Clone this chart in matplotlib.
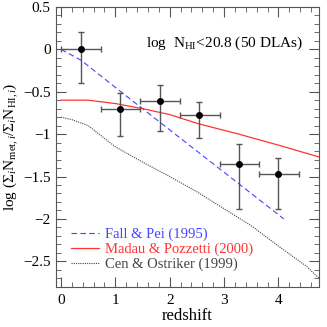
import numpy as np
import matplotlib
matplotlib.use('Agg')
import matplotlib.pyplot as plt

# DLA metallicity bins
z_pts = [0.365, 1.094, 1.823, 2.54, 3.27, 4.0]
z_lo = [0.0, 0.73, 1.46, 2.19, 2.92, 3.65]
z_hi = [0.73, 1.46, 2.19, 2.92, 3.65, 4.38]
met = [0.0, -0.70, -0.61, -0.78, -1.35, -1.47]
met_up = [0.20, -0.52, -0.42, -0.62, -1.12, -1.28]
met_dn = [-0.40, -1.02, -0.96, -1.05, -1.88, -1.88]

# model curves
fp_z = [0.0, 0.37, 1.1, 1.5, 2.0, 2.5, 3.0, 3.5, 4.1]
fp_met = [0.0, -0.13, -0.5, -0.7, -0.95, -1.2, -1.45, -1.7, -2.0]
mp_z = [0.0, 0.5, 1.0, 1.5, 2.0, 2.54, 3.27, 4.0, 4.75]
mp_met = [-0.6, -0.6, -0.64, -0.70, -0.77, -0.88, -1.0, -1.13, -1.27]
co_z = [0.0, 0.2, 0.5, 1.0, 1.5, 2.0, 2.5, 3.0, 3.5, 4.0, 4.5, 4.75]
co_met = [-0.8, -0.83, -0.9, -1.15, -1.33, -1.5, -1.68, -1.88, -2.08, -2.32, -2.55, -2.7]

plt.rcParams['font.family'] = 'Liberation Serif'
plt.rcParams['mathtext.fontset'] = 'custom'
plt.rcParams['mathtext.rm'] = 'Liberation Serif'
plt.rcParams['mathtext.it'] = 'Liberation Serif:italic'

fig = plt.figure(figsize=(3.27, 3.27), dpi=100)
ax = fig.add_axes([0.170, 0.123, 0.806, 0.856])

ax.plot(fp_z, fp_met, color='#4444ff', ls=(0, (5, 3)), lw=0.8, label='Fall & Pei (1995)')
ax.plot(mp_z, mp_met, color='#ff3333', lw=0.9, label='Madau & Pozzetti (2000)')
ax.plot(co_z, co_met, color='#444444', ls=(0, (1, 1)), lw=0.8, label='Cen & Ostriker (1999)')

z = np.array(z_pts)
m = np.array(met)
xerr = [z - np.array(z_lo), np.array(z_hi) - z]
yerr = [m - np.array(met_dn), np.array(met_up) - m]
ax.errorbar(z, m, xerr=xerr, yerr=yerr, fmt='o', color='black', ms=4,
            ecolor='#555555', elinewidth=1.0, capsize=2.5, capthick=1.0)

ax.set_xlim(-0.1, 4.75)
ax.set_ylim(-2.8, 0.5)
ax.set_xticks([0, 1, 2, 3, 4])
ax.set_yticks([0.5, 0, -0.5, -1, -1.5, -2, -2.5])
ax.set_yticklabels(['0.5', '0', '\u22120.5', '\u22121', '\u22121.5', '\u22122', '\u22122.5'])
ax.xaxis.set_minor_locator(matplotlib.ticker.MultipleLocator(0.2))
ax.yaxis.set_minor_locator(matplotlib.ticker.MultipleLocator(0.1))
ax.tick_params(which='both', direction='in', top=True, right=True, colors='#555555',
               labelcolor='black', labelsize=11)
ax.tick_params(which='major', length=7)
ax.tick_params(which='minor', length=3.5)
ax.tick_params(axis='x', pad=5)
for s in ax.spines.values():
    s.set_color('#555555')

ax.set_xlabel('redshift', fontsize=12, labelpad=1)
ax.set_ylabel('log (\u03a3$_i$N$_{\\mathrm{met},i}$/\u03a3$_i$N$_{\\mathrm{HI},i}$)',
              fontsize=11)
ax.yaxis.set_label_coords(-0.135, 0.5)

ax.text(0.94, 0.87, r'log  N$_{\mathrm{HI}}$<20.8 (50 DLAs)', transform=ax.transAxes,
        ha='right', va='center', fontsize=11)

ax.legend(loc='lower left', frameon=False, fontsize=10.5, handlelength=1.9,
          handletextpad=0.4, labelcolor='linecolor', borderaxespad=0.3,
          labelspacing=0.1, bbox_to_anchor=(0.02, 0.02))

fig.savefig('out.png', dpi=100)
